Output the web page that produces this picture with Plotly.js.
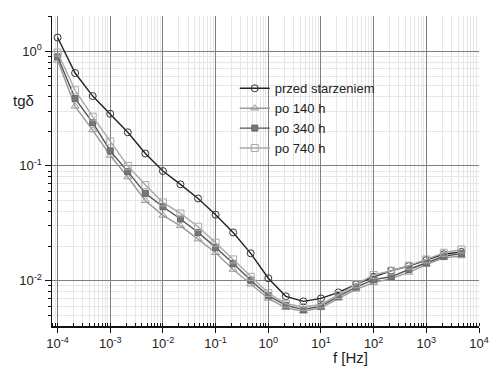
<!DOCTYPE html>
<html>
<head>
<meta charset="utf-8">
<script src="https://cdn.plot.ly/plotly-3.0.1.min.js"></script>
<style>html,body{margin:0;padding:0;background:#fff;}#chart{width:491px;height:368px;}</style>
</head>
<body>
<div id="chart"></div>
<script>
const freq = [1e-4, 2.15e-4, 4.64e-4, 1e-3, 2.15e-3, 4.64e-3, 1e-2, 2.15e-2, 4.64e-2, 1e-1, 2.15e-1, 4.64e-1,
  1, 2.15, 4.64, 10, 21.5, 46.4, 100, 215, 464, 1000, 2150, 4640];
const przed = [1.31, 0.643, 0.405, 0.284, 0.196, 0.128, 0.090, 0.069, 0.052, 0.0375, 0.0263, 0.0173,
  0.0105, 0.0073, 0.0066, 0.0070, 0.0079, 0.0093, 0.0108, 0.0122, 0.0134, 0.0151, 0.0170, 0.0178];
const po140 = [0.83, 0.33, 0.205, 0.123, 0.080, 0.0497, 0.037, 0.030, 0.023, 0.0175, 0.0125, 0.0093,
  0.0070, 0.0058, 0.0054, 0.0058, 0.0070, 0.0084, 0.0096, 0.0104, 0.0118, 0.0138, 0.0158, 0.0164];
const po340 = [0.89, 0.385, 0.238, 0.135, 0.089, 0.0576, 0.044, 0.0344, 0.0263, 0.0195, 0.0141, 0.0101,
  0.0074, 0.0061, 0.0056, 0.0060, 0.0073, 0.0088, 0.0102, 0.0108, 0.0125, 0.0143, 0.0163, 0.0172];
const po740 = [0.97, 0.455, 0.268, 0.163, 0.100, 0.068, 0.048, 0.0385, 0.0295, 0.0214, 0.0153, 0.0108,
  0.0078, 0.0063, 0.0059, 0.0062, 0.0075, 0.0093, 0.0112, 0.0122, 0.0135, 0.0153, 0.0175, 0.0187];
const xTickVals = [1e-4, 1e-3, 1e-2, 1e-1, 1, 10, 100, 1000, 10000];
const xTickText = ['10<sup>-4</sup>','10<sup>-3</sup>','10<sup>-2</sup>','10<sup>-1</sup>','10<sup>0</sup>','10<sup>1</sup>','10<sup>2</sup>','10<sup>3</sup>','10<sup>4</sup>'];
const yTickVals = [0.01, 0.1, 1];
const yTickText = ['10<sup>-2</sup>','10<sup>-1</sup>','10<sup>0</sup>'];
const names = ['przed starzeniem', 'po 140 h', 'po 340 h', 'po 740 h'];

const traces = [
  {x: freq, y: przed, name: names[0], mode: 'lines+markers',
   line: {color: '#222', width: 1.4},
   marker: {symbol: 'circle-open', size: 7, color: '#333', line: {width: 1}}},
  {x: freq, y: po140, name: names[1], mode: 'lines+markers',
   line: {color: '#9a9a9a', width: 1.4},
   marker: {symbol: 'triangle-up-open', size: 7, color: '#999', line: {width: 1}}},
  {x: freq, y: po340, name: names[2], mode: 'lines+markers',
   line: {color: '#555', width: 1.4},
   marker: {symbol: 'square', size: 6, color: '#777', line: {width: 1, color: '#666'}}},
  {x: freq, y: po740, name: names[3], mode: 'lines+markers',
   line: {color: '#a8a8a8', width: 1.4},
   marker: {symbol: 'square-open', size: 7, color: '#aaa', line: {width: 1}}}
];
traces.forEach(t => { t.type = 'scatter'; });

const layout = {
  width: 491, height: 368,
  margin: {l: 52, r: 12, t: 16, b: 42},
  paper_bgcolor: '#fff', plot_bgcolor: '#fff',
  font: {family: 'Liberation Sans, Arial, sans-serif', size: 12, color: '#222'},
  showlegend: true,
  legend: {x: 0.428, y: 0.815, xanchor: 'left', yanchor: 'top', bgcolor: 'rgba(0,0,0,0)',
    font: {size: 13, color: '#222'}, tracegroupgap: 0, itemwidth: 30},
  xaxis: {type: 'log', range: [-4.106, 4.0], tickvals: xTickVals, ticktext: xTickText,
    showline: true, linecolor: '#111', linewidth: 1.5, ticks: 'outside', ticklen: 5, tickcolor: '#111',
    showgrid: true, gridcolor: '#808080', gridwidth: 1, zeroline: false,
    minor: {dtick: 'D1', showgrid: true, gridcolor: '#e6e6e6', ticks: 'inside', ticklen: 3, tickcolor: '#111'},
    tickfont: {size: 13}},
  yaxis: {type: 'log', range: [-2.395, 0.305], tickvals: yTickVals, ticktext: yTickText,
    showline: true, linecolor: '#111', linewidth: 1.5, ticks: 'outside', ticklen: 6, tickcolor: '#111',
    showgrid: true, gridcolor: '#808080', gridwidth: 1, zeroline: false,
    minor: {dtick: 'D1', showgrid: true, gridcolor: '#e6e6e6', ticks: 'outside', ticklen: 3, tickcolor: '#111'},
    tickfont: {size: 13}},
  annotations: [
    {text: 'tgδ', xref: 'paper', yref: 'paper', x: -0.067, y: 0.729, xanchor: 'center', yanchor: 'middle',
     showarrow: false, font: {size: 15, color: '#222'}},
    {text: 'f [Hz]', xref: 'paper', yref: 'paper', x: 0.70, y: -0.103, xanchor: 'center', yanchor: 'middle',
     showarrow: false, font: {size: 15, color: '#222'}}
  ]
};

Plotly.newPlot('chart', traces, layout, {staticPlot: true, displayModeBar: false});
</script>
</body>
</html>
